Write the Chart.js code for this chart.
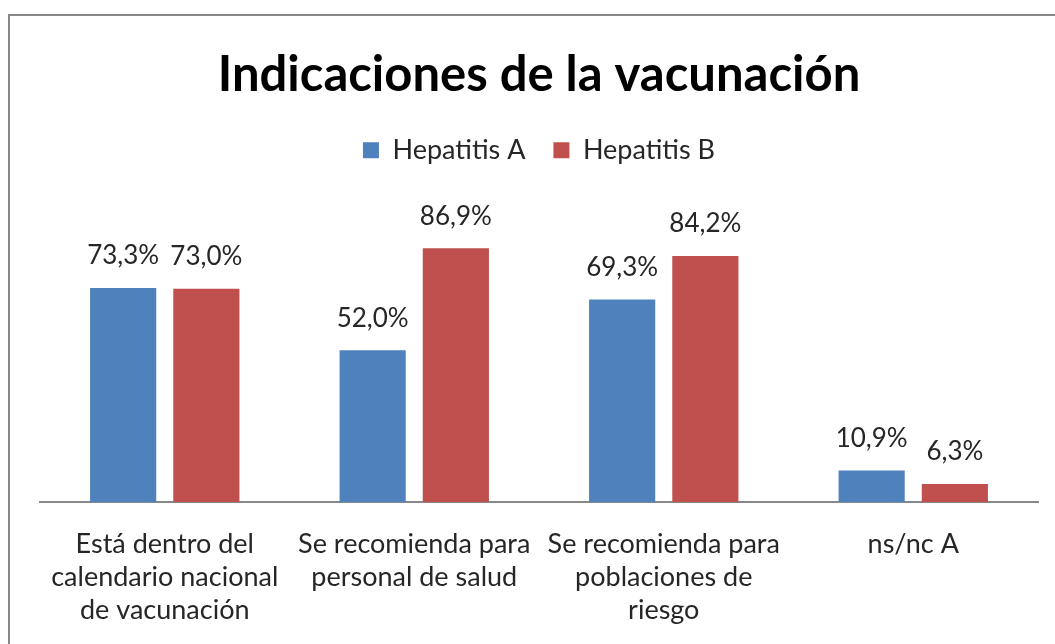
<!DOCTYPE html>
<html>
<head>
<meta charset="utf-8">
<script src="https://cdn.jsdelivr.net/npm/chart.js@4/dist/chart.umd.min.js"></script>
<style>
  body { margin: 0; background: #fff; overflow: hidden; }
  #frame { position: absolute; left: 8px; top: 14px; width: 1100px; height: 700px;
           border-left: 2px solid #878787; border-top: 2px solid #878787; }
  #wrap { position: absolute; left: 0; top: 0; width: 1055px; height: 644px; }
</style>
</head>
<body>
<div id="frame"></div>
<div id="wrap"><canvas id="vacChart"></canvas></div>
<script>
// categories and values (percent)
const categories = [
    ['Está dentro del', 'calendario nacional', 'de vacunación'],
    ['Se recomienda para', 'personal de salud'],
    ['Se recomienda para', 'poblaciones de', 'riesgo'],
    'ns/nc A'
];
const hepatitisA = [73.3, 52.0, 69.3, 10.9];
const hepatitisB = [73.0, 86.9, 84.2, 6.3];

const FONT = 'Lato, "Open Sans", sans-serif';

// draws the percentage above each bar
const barLabels = {
    id: 'barLabels',
    afterDatasetsDraw(chart) {
        const ctx = chart.ctx;
        ctx.save();
        ctx.font = '26px ' + FONT;
        ctx.fillStyle = '#262626';
        ctx.textAlign = 'center';
        ctx.textBaseline = 'middle';
        chart.data.datasets.forEach((ds, i) => {
            chart.getDatasetMeta(i).data.forEach((bar, j) => {
                const txt = ds.data[j].toFixed(1).replace('.', ',') + '%';
                ctx.fillText(txt, bar.x, bar.y - 32);
            });
        });
        ctx.restore();
    }
};

// leave some room between the legend and the bars
const legendGap = {
    id: 'legendGap',
    beforeInit(chart) {
        const fit = chart.legend.fit;
        chart.legend.fit = function () {
            fit.call(this);
            this.height += 36;
        };
    }
};

const ctx = document.getElementById('vacChart');
new Chart(ctx, {
    type: 'bar',
    data: {
        labels: categories,
        datasets: [
            { label: 'Hepatitis A', data: hepatitisA, backgroundColor: '#4F81BD' },
            { label: 'Hepatitis B', data: hepatitisB, backgroundColor: '#C0504D' }
        ]
    },
    options: {
        responsive: true,
        maintainAspectRatio: false,
        animation: false,
        categoryPercentage: 0.667,
        barPercentage: 0.795,
        layout: { padding: { left: 40, right: 17, top: 0, bottom: 0 } },
        plugins: {
            title: {
                display: true,
                text: 'Indicaciones de la vacunación',
                color: '#000',
                font: { family: FONT, size: 49, weight: 'bold' },
                padding: { top: 46, bottom: 4 }
            },
            legend: {
                position: 'top',
                labels: {
                    color: '#262626',
                    font: { family: FONT, size: 27 },
                    boxWidth: 16,
                    boxHeight: 16,
                    padding: 28
                }
            },
            tooltip: { enabled: false }
        },
        scales: {
            x: {
                grid: { display: false },
                border: { color: '#888', width: 2 },
                ticks: {
                    color: '#262626',
                    font: { family: FONT, size: 27, lineHeight: 1.23 },
                    padding: 17,
                    maxRotation: 0,
                    autoSkip: false
                }
            },
            y: {
                display: false,
                min: 0,
                max: 100
            }
        }
    },
    plugins: [barLabels, legendGap]
});
</script>
</body>
</html>
